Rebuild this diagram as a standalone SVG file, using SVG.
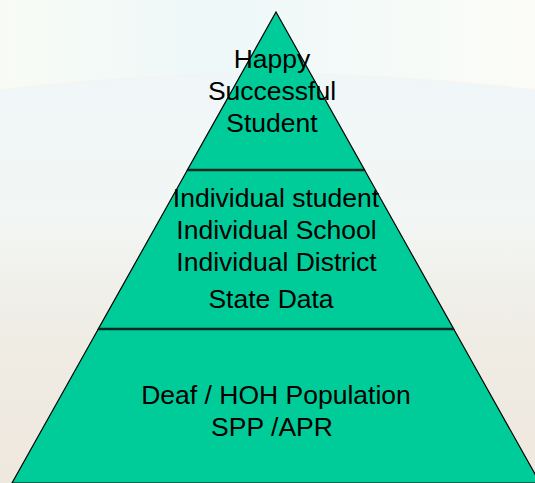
<svg xmlns="http://www.w3.org/2000/svg" width="535" height="483" viewBox="0 0 535 483">
  <defs>
    <linearGradient id="bg" x1="0" y1="0" x2="0" y2="1">
      <stop offset="0" stop-color="#eaf6f8"/>
      <stop offset="0.2" stop-color="#f1f7f8"/>
      <stop offset="0.45" stop-color="#f2f6f4"/>
      <stop offset="0.7" stop-color="#efece4"/>
      <stop offset="1" stop-color="#efe8de"/>
    </linearGradient>
    <linearGradient id="top" x1="0" y1="0" x2="1" y2="0">
      <stop offset="0" stop-color="#f8fbf5"/>
      <stop offset="0.4" stop-color="#eef8f9"/>
      <stop offset="1" stop-color="#fbfcf7"/>
    </linearGradient>
    <style>
      .tier { fill: #00cc99; stroke: #000; stroke-width: 1.2; stroke-linejoin: miter; }
      .sep { stroke: #0b2a20; stroke-width: 2.5; }
      text { font-family: "Liberation Sans", Arial, sans-serif; font-size: 26.5px; fill: #000; text-anchor: middle; }
    </style>
  </defs>
  <rect width="535" height="483" fill="url(#bg)"/>
  <path d="M0,0 H535 V90 Q270,58 0,90 Z" fill="url(#top)"/>
  <path d="M0,90 Q270,58 535,90" fill="none" stroke="#f6f3ee" stroke-width="2" opacity="0.6"/>

  <g id="tier-bottom">
    <polygon class="tier" points="98.3,329 453.7,329 540,483 12,483"/>
    <text x="276" y="403.5">Deaf / HOH Population</text>
    <text x="272" y="436">SPP /APR</text>
  </g>
  <g id="tier-middle">
    <polygon class="tier" points="187.4,170 364.6,170 453.7,329 98.3,329"/>
    <text x="276" y="207">Individual student</text>
    <text x="276.5" y="239">Individual School</text>
    <text x="276.5" y="271">Individual District</text>
    <text x="271" y="308">State Data</text>
  </g>
  <g id="tier-top">
    <polygon class="tier" points="276,12 364.6,170 187.4,170"/>
    <text x="272" y="68">Happy</text>
    <text x="272" y="100">Successful</text>
    <text x="272" y="132">Student</text>
  </g>
  <g id="connectors">
    <line class="sep" x1="187.4" y1="170" x2="364.6" y2="170"/>
    <line class="sep" x1="98.3" y1="329" x2="453.7" y2="329"/>
  </g>
</svg>
